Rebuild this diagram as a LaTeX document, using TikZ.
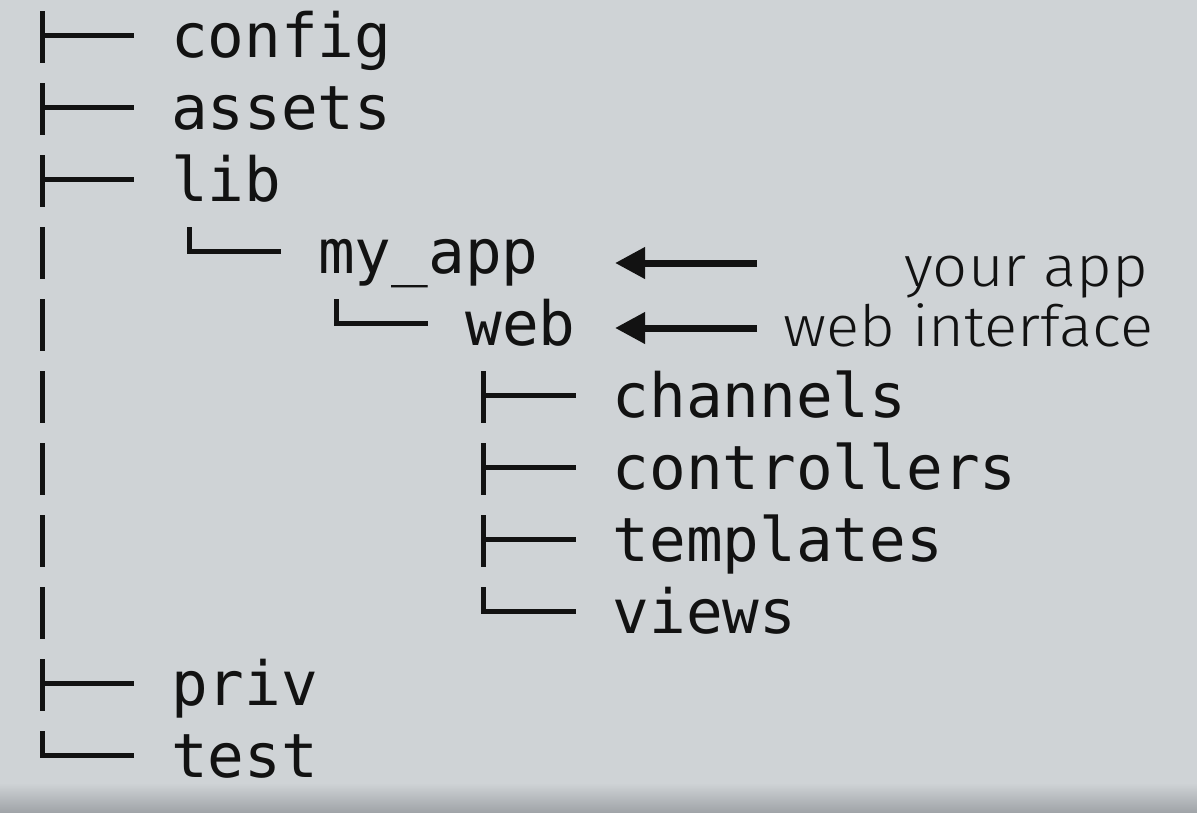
\documentclass[tikz,border=0pt]{standalone}
\usepackage{fontspec}
\newfontfamily\treefont{DejaVu Sans Mono}
\newfontfamily\labelfont[FakeStretch=1.08]{Fira Sans Light}
\usetikzlibrary{arrows.meta}
\definecolor{bg}{RGB}{207,211,214}
\definecolor{bgdark}{RGB}{160,164,168}
\definecolor{ink}{RGB}{18,18,18}
% column -> x of the character cell, row -> baseline
\newcommand\treetee[2]{%
  \pgfmathsetmacro\tx{23.6+(#1+0.5)*36.8}%
  \pgfmathsetmacro\te{23.6+(#1+3)*36.8}%
  \pgfmathsetmacro\tb{57+72*(#2)}%
  \draw[branch] (\tx,\tb-46) -- (\tx,\tb+6);
  \draw[branch] (\tx,\tb-22) -- (\te,\tb-22);}
\newcommand\treeell[2]{%
  \pgfmathsetmacro\tx{23.6+(#1+0.5)*36.8}%
  \pgfmathsetmacro\te{23.6+(#1+3)*36.8}%
  \pgfmathsetmacro\tb{57+72*(#2)}%
  \draw[branch,line join=miter] (\tx,\tb-46) |- (\te,\tb-22);}
\newcommand\treebar[2]{%
  \pgfmathsetmacro\tx{23.6+(#1+0.5)*36.8}%
  \pgfmathsetmacro\tb{57+72*(#2)}%
  \draw[branch] (\tx,\tb-46) -- (\tx,\tb+6);}
\begin{document}
\begin{tikzpicture}[x=1pt,y=-1pt,
  entry/.style={anchor=base west,inner sep=0pt,text=ink,
    font=\treefont\fontsize{61}{61}\selectfont},
  branch/.style={draw=ink,line width=5pt},
  note/.style={anchor=base west,inner sep=0pt,text=ink,
    font=\labelfont\fontsize{57}{57}\selectfont},
  pointer/.style={draw=ink,line width=7pt,-{Triangle[length=30pt,width=30pt]}}]
\fill[bg] (0,0) rectangle (1197,812);
\shade[top color=bg,bottom color=bgdark] (0,783) rectangle (1197,812);
\useasboundingbox (0,0) rectangle (1197,812);

% entries
\node[entry] (config)      at ({23.6+4*36.8},57)  {config};
\node[entry] (assets)      at ({23.6+4*36.8},129) {assets};
\node[entry] (lib)         at ({23.6+4*36.8},201) {lib};
\node[entry] (myapp)       at ({23.6+8*36.8},273) {my\_app};
\node[entry] (web)         at ({23.6+12*36.8},345) {web};
\node[entry] (channels)    at ({23.6+16*36.8},417) {channels};
\node[entry] (controllers) at ({23.6+16*36.8},489) {controllers};
\node[entry] (templates)   at ({23.6+16*36.8},561) {templates};
\node[entry] (views)       at ({23.6+16*36.8},633) {views};
\node[entry] (priv)        at ({23.6+4*36.8},705) {priv};
\node[entry] (test)        at ({23.6+4*36.8},777) {test};

% tree branches
\treetee{0}{0}
\treetee{0}{1}
\treetee{0}{2}
\treebar{0}{3}\treeell{4}{3}
\treebar{0}{4}\treeell{8}{4}
\treebar{0}{5}\treetee{12}{5}
\treebar{0}{6}\treetee{12}{6}
\treebar{0}{7}\treetee{12}{7}
\treebar{0}{8}\treeell{12}{8}
\treetee{0}{9}
\treeell{0}{10}

% annotations
\node[note] (yourapp) at (904,286) {your app};
\node[note] (webint)  at (783,346) {web interface};
\coordinate (p1) at (757,263);
\coordinate (q1) at (615,263);
\coordinate (p2) at (757,328);
\coordinate (q2) at (615,328);
\draw[pointer] (p1) -- (q1);
\draw[pointer] (p2) -- (q2);
\end{tikzpicture}
\end{document}
